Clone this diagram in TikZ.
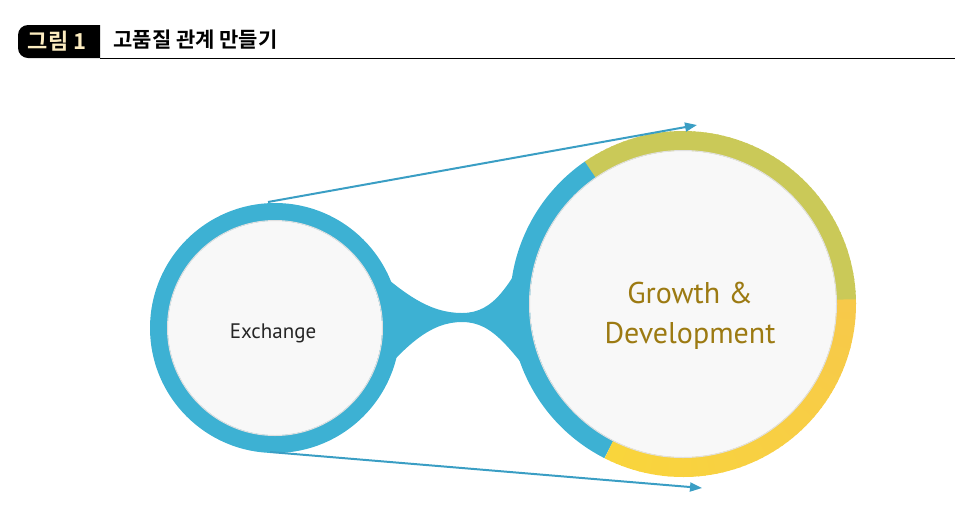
\documentclass[tikz,border=0pt]{standalone}
\usepackage{fontspec}
\setmainfont{PT Sans}
\newfontfamily\kr{Noto Sans CJK KR}
\newfontfamily\krb{Noto Sans CJK KR Bold}
\usetikzlibrary{arrows.meta}
\definecolor{teal}{HTML}{3DB1D3}
\definecolor{arr}{HTML}{3A9EC4}
\definecolor{grn}{HTML}{BFC95C}
\definecolor{ylw}{HTML}{F7C94A}
\definecolor{ylw2}{HTML}{F9D53C}
\definecolor{olive}{HTML}{9C7A12}
\definecolor{disc}{HTML}{F8F8F8}
\tikzset{conn/.style={arr,line width=2pt,-{Triangle[length=12pt,width=9pt]}}}
\begin{document}
\begin{tikzpicture}[x=1pt,y=-1pt]
\useasboundingbox (0,0) rectangle (971,531);
% title
\fill[black,rounded corners=10pt] (100,58) -- (18,58) -- (18,25) -- (100,25);
\fill[black] (60,25) rectangle (100,58);
\node[text=ylw!35!white,font=\krb\fontsize{22}{24}\selectfont] (tagtxt) at (57,41) {그림 1};
\node[anchor=west,font=\krb\fontsize{21}{24}\selectfont] (title) at (110,40) {고품질 관계 만들기};
\draw[line width=1.5pt] (100,58.5) -- (955,58.5);
% bridge
\fill[teal] (368,262) .. controls (405,295) and (430,313) .. (462,313)
  .. controls (495,313) and (510,285) .. (540,228) -- (555,405)
  .. controls (510,350) and (495,322) .. (462,322)
  .. controls (430,322) and (405,345) .. (366,392) -- cycle;
% left ring
\draw[teal,line width=18pt] (275,328) circle[radius=116];
\fill[disc] (275,328) circle[radius=107];
\draw[black!12,line width=1pt] (275,328) circle[radius=107.5];
% right ring
\def\cx{683}\def\cy{304}
\draw[teal,line width=20pt] (\cx,\cy) ++(-243:163) arc[start angle=-243,end angle=-124,radius=163];
\foreach \a in {0,2,...,122}{
  \pgfmathsetmacro\p{100*\a/124}
  \draw[grn!\p!grn!80!ylw,line width=20pt] (\cx,\cy) ++(-\a-2.6:163) arc[start angle=-\a-2.6,end angle=-\a,radius=163];}
\foreach \a in {-117,-115,...,-1}{
  \pgfmathsetmacro\p{100*(\a+117)/117}
  \draw[ylw!\p!ylw2,line width=20pt] (\cx,\cy) ++(-\a-2.6:163) arc[start angle=-\a-2.6,end angle=-\a,radius=163];}
\fill[disc] (\cx,\cy) circle[radius=153];
\draw[black!12,line width=1pt] (\cx,\cy) circle[radius=153.5];
% texts
\node[font=\fontsize{21}{22}\selectfont,text=black!85] (ex) at (273,333) {Exchange};
\node[font=\fontsize{30}{40}\selectfont,text=olive,align=center] (gd) at (690,316) {Growth \&\\Development};
% arrows
\coordinate (a1) at (268,202); \coordinate (b1) at (697,125);
\coordinate (a2) at (270,452); \coordinate (b2) at (702,488);
\draw[conn] (a1) -- (b1);
\draw[conn] (a2) -- (b2);
\end{tikzpicture}
\end{document}
